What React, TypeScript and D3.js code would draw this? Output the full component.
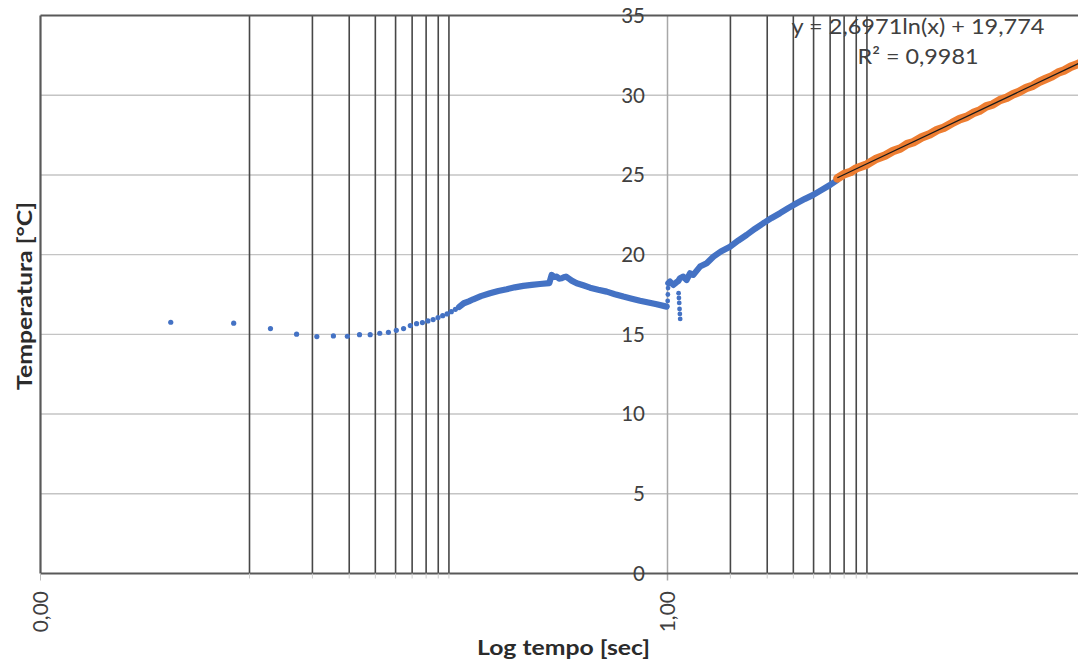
import React from "react";
import * as d3 from "d3";

// Canvas
const WIDTH = 1078;
const HEIGHT = 664;

// Axes
const X_DOMAIN: [number, number] = [0.001, 1000];
const Y_DOMAIN: [number, number] = [0, 35];
const Y_TICKS = [0, 5, 10, 15, 20, 25, 30, 35];
const X_MAJOR = [0.001, 1];
const X_MAJOR_LABELS = ["0,00", "1,00"];
const X_MINOR = [0.01, 0.02, 0.03, 0.04, 0.05, 0.06, 0.07, 0.08, 0.09, 2, 3, 4, 5, 6, 7, 8, 9];

// Measured series (time [s], temperature [°C])
const blueEarly: [number, number][] = [
  [0.0042, 15.76], [0.0084, 15.7], [0.0126, 15.36], [0.0168, 15.01], [0.021, 14.86],
  [0.0252, 14.9], [0.0294, 14.88], [0.0336, 14.98], [0.0378, 14.98], [0.042, 15.07],
  [0.0462, 15.13], [0.0504, 15.25], [0.0546, 15.36], [0.0588, 15.55], [0.063, 15.67],
  [0.0672, 15.74], [0.0714, 15.84], [0.0756, 15.93], [0.0798, 16.05], [0.084, 16.17],
  [0.0882, 16.28], [0.0924, 16.42], [0.0966, 16.57],
];

const blueWarmup: [number, number][] = [
  [0.1008, 16.72], [0.106, 16.95], [0.112, 17.07], [0.1177, 17.2], [0.128, 17.4],
  [0.1415, 17.58], [0.155, 17.72], [0.1701, 17.83], [0.186, 17.95], [0.2042, 18.04],
  [0.224, 18.1], [0.2455, 18.16], [0.2719, 18.21], [0.2792, 18.73], [0.287, 18.6],
  [0.295, 18.62], [0.303, 18.5], [0.3117, 18.52], [0.319, 18.58], [0.3268, 18.62],
  [0.337, 18.5], [0.3479, 18.37], [0.3678, 18.21], [0.395, 18.08], [0.4258, 17.93],
  [0.466, 17.8], [0.5118, 17.68], [0.56, 17.52], [0.6145, 17.37], [0.675, 17.24],
  [0.7388, 17.11], [0.81, 17.0], [0.8877, 16.89], [0.9913, 16.74],
];

const blueJump: [number, number][] = [
  [1.002, 17.1], [1.004, 17.5], [1.006, 17.9],
  [1.13, 17.58], [1.134, 17.28], [1.138, 16.97], [1.142, 16.59], [1.146, 16.28], [1.15, 15.97],
];

const blueHeating: [number, number][] = [
  [1.009, 18.21], [1.028, 18.31], [1.066, 18.1], [1.1, 18.25], [1.126, 18.35],
  [1.148, 18.52], [1.19, 18.62], [1.235, 18.41], [1.281, 18.83], [1.329, 18.73],
  [1.431, 19.25], [1.54, 19.46], [1.657, 19.87], [1.8, 20.2], [1.991, 20.5],
  [2.18, 20.88], [2.393, 21.24], [2.62, 21.62], [2.874, 21.97], [3.15, 22.3],
  [3.453, 22.6], [3.78, 22.92], [4.149, 23.22], [4.55, 23.5], [4.984, 23.75],
  [5.47, 24.06], [5.992, 24.37], [6.448, 24.65],
];

const orangeFit: [number, number][] = [
  [6.5, 24.78], [7, 25.05], [7.5, 25.18], [8, 25.41], [9, 25.66], [10, 26.02],
  [11, 26.22], [12, 26.5], [13, 26.66], [14, 26.93], [15, 27.05], [16.5, 27.36],
  [18, 27.55], [19.5, 27.82], [21, 27.96], [23, 28.25], [25, 28.5], [27, 28.64],
  [29, 28.88], [31, 29.02], [33.5, 29.3], [36, 29.42], [39, 29.7], [42, 29.84],
  [45, 30.06], [48, 30.2], [52, 30.45], [56, 30.6], [60, 30.84], [64, 31.0],
  [69, 31.18], [74, 31.42], [79, 31.55], [85, 31.78], [91, 31.93], [96, 32.08],
];

// Logarithmic trendline y = a·ln(x) + b
const TREND_A = 2.6971;
const TREND_B = 19.774;
const TREND_LABEL = "y = 2,6971ln(x) + 19,774";
const R2_LABEL = "R² = 0,9981";

const BLUE = "#4472C4";
const ORANGE = "#ED7D31";
const FONT = "Lato, 'Open Sans', sans-serif";

export default function App() {
  const x = d3.scaleLog().domain(X_DOMAIN).range([40.5, 1294.5]);
  const y = d3.scaleLinear().domain(Y_DOMAIN).range([573.5, 15.5]);
  const line = d3
    .line<[number, number]>()
    .x((d) => x(d[0]))
    .y((d) => y(d[1]));

  const [x0, x1] = x.range();
  const [yb, yt] = y.range();
  const xAxis1 = x(1);

  const trendStart = orangeFit[0][0];
  const trendEnd = orangeFit[orangeFit.length - 1][0];
  const trendPts: [number, number][] = [trendStart, trendEnd].map((t) => [
    t,
    TREND_A * Math.log(t) + TREND_B,
  ]);

  return (
    <svg
      width={WIDTH}
      height={HEIGHT}
      viewBox={`0 0 ${WIDTH} ${HEIGHT}`}
      style={{ position: "absolute", left: 0, top: 0, display: "block", background: "#fff" }}
    >
      <rect x={0} y={0} width={WIDTH} height={HEIGHT} fill="#fff" />

      {/* horizontal gridlines */}
      {Y_TICKS.filter((v) => v > 0 && v < 35).map((v) => (
        <line key={`h${v}`} x1={x0} x2={x1} y1={y(v)} y2={y(v)} stroke="#c4c4c4" strokeWidth={1.4} />
      ))}

      {/* vertical minor gridlines */}
      {X_MINOR.map((v) => (
        <line key={`v${v}`} x1={x(v)} x2={x(v)} y1={yt} y2={yb} stroke="#474747" strokeWidth={1.6} />
      ))}

      {/* vertical axis crossing at x = 1 */}
      <line x1={xAxis1} x2={xAxis1} y1={yt} y2={yb + 7} stroke="#a8a8a8" strokeWidth={1.5} />

      {/* plot frame */}
      <line x1={x0} x2={x1} y1={yt} y2={yt} stroke="#595959" strokeWidth={2} />
      <line x1={x0} x2={x0} y1={yt} y2={yb} stroke="#595959" strokeWidth={2.2} />
      <line x1={x0} x2={x1} y1={yb} y2={yb} stroke="#595959" strokeWidth={2} />

      {/* x tick marks */}
      {X_MINOR.map((v) => (
        <line key={`t${v}`} x1={x(v)} x2={x(v)} y1={yb} y2={yb + 5} stroke="#cfcfcf" strokeWidth={1} />
      ))}
      <line x1={x0} x2={x0} y1={yb} y2={yb + 7} stroke="#bdbdbd" strokeWidth={1} />

      {/* y tick labels */}
      {Y_TICKS.map((v) => (
        <text
          key={`yl${v}`}
          x={645}
          y={y(v)}
          dy="0.36em"
          textAnchor="end"
          fontFamily={FONT}
          fontSize={20.5}
          fill="#404040"
        >
          {v}
        </text>
      ))}

      {/* x tick labels */}
      {X_MAJOR.map((v, i) => (
        <text
          key={`xl${v}`}
          transform={`translate(${x(v) + 7.5},${591}) rotate(-90)`}
          textAnchor="end"
          fontFamily={FONT}
          fontSize={21}
          fill="#404040"
        >
          {X_MAJOR_LABELS[i]}
        </text>
      ))}

      {/* blue series */}
      <g fill={BLUE}>
        {blueEarly.map((d, i) => (
          <circle key={`be${i}`} cx={x(d[0])} cy={y(d[1])} r={2.6} />
        ))}
        {blueJump.map((d, i) => (
          <circle key={`bj${i}`} cx={x(d[0])} cy={y(d[1])} r={2.4} />
        ))}
      </g>
      {[blueWarmup, blueHeating].map((s, i) => (
        <path
          key={`bp${i}`}
          d={line(s) ?? ""}
          fill="none"
          stroke={BLUE}
          strokeWidth={6.2}
          strokeLinecap="round"
          strokeLinejoin="round"
        />
      ))}

      {/* orange series */}
      <path
        d={line(orangeFit) ?? ""}
        fill="none"
        stroke={ORANGE}
        strokeWidth={8.5}
        strokeLinecap="round"
        strokeLinejoin="round"
      />

      {/* trendline */}
      <path d={line(trendPts) ?? ""} fill="none" stroke="#1a1a1a" strokeWidth={1.3} />

      {/* trendline label */}
      <text x={918} y={33.5} textAnchor="middle" fontFamily={FONT} fontSize={22} fill="#404040"
        textLength={253} lengthAdjust="spacingAndGlyphs">
        {TREND_LABEL}
      </text>
      <text x={918} y={63.5} textAnchor="middle" fontFamily={FONT} fontSize={22} fill="#404040"
        textLength={121} lengthAdjust="spacingAndGlyphs">
        {R2_LABEL}
      </text>

      {/* axis titles */}
      <text x={563.5} y={655} textAnchor="middle" fontFamily={FONT} fontSize={20} fontWeight="bold"
        fill="#2b2b2b" textLength={173} lengthAdjust="spacingAndGlyphs">
        Log tempo [sec]
      </text>
      <text transform="translate(32,296) rotate(-90)" textAnchor="middle" fontFamily={FONT} fontSize={21}
        fontWeight="bold" fill="#2b2b2b" textLength={188} lengthAdjust="spacingAndGlyphs">
        Temperatura [°C]
      </text>
    </svg>
  );
}
